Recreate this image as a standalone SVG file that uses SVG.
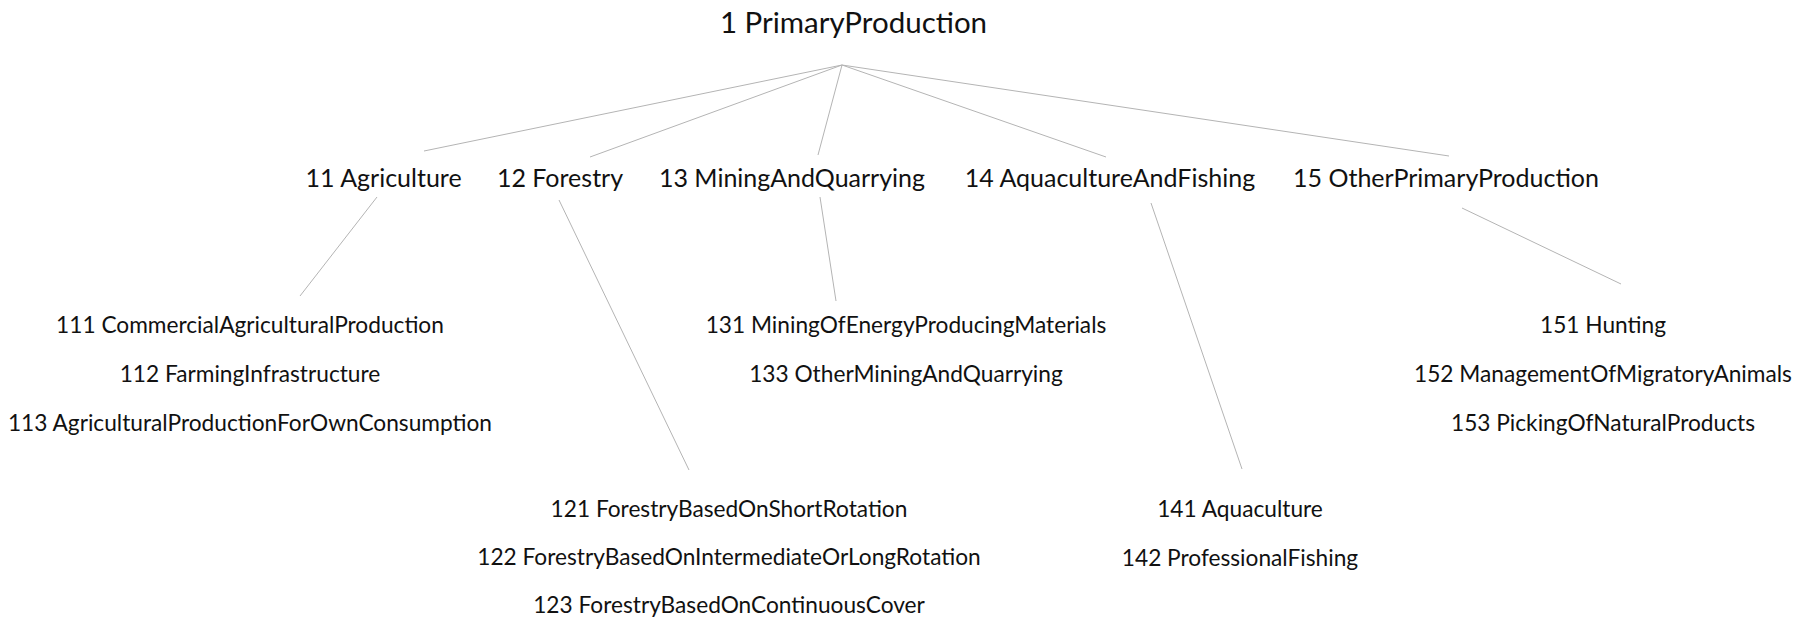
<svg xmlns="http://www.w3.org/2000/svg" width="1812" height="620" viewBox="0 0 1812 620">
<style>
text{font-family:Lato,"Open Sans","Liberation Sans",sans-serif;fill:#111;text-anchor:middle}
.t0{font-size:29.5px}
.t1{font-size:25px}
.t2{font-size:22.7px}
.c line{stroke:#b4b4b4;stroke-width:1;fill:none}
</style>
<rect width="1812" height="620" fill="#fff"/>
<g id="connectors" class="c">
<line x1="842" y1="65" x2="424" y2="151"/>
<line x1="842" y1="65" x2="590" y2="157"/>
<line x1="842" y1="65" x2="818" y2="155"/>
<line x1="842" y1="65" x2="1106" y2="157"/>
<line x1="842" y1="65" x2="1449" y2="156"/>
<line x1="377" y1="197" x2="300" y2="296"/>
<line x1="559" y1="200" x2="689" y2="470"/>
<line x1="820" y1="197" x2="836" y2="301"/>
<line x1="1151" y1="203" x2="1242" y2="469"/>
<line x1="1462" y1="208" x2="1621" y2="284"/>
</g>
<g id="n1"><text class="t0" x="853.5" y="33">1 PrimaryProduction</text></g>
<g id="n11"><text class="t1" x="383.6" y="187">11 Agriculture</text></g>
<g id="n12"><text class="t1" x="560" y="187">12 Forestry</text></g>
<g id="n13"><text class="t1" x="792" y="187">13 MiningAndQuarrying</text></g>
<g id="n14"><text class="t1" x="1110" y="187">14 AquacultureAndFishing</text></g>
<g id="n15"><text class="t1" x="1446" y="187">15 OtherPrimaryProduction</text></g>
<g id="n11c">
<text class="t2" x="250" y="333">111 CommercialAgriculturalProduction</text>
<text class="t2" x="250" y="382">112 FarmingInfrastructure</text>
<text class="t2" x="250" y="431">113 AgriculturalProductionForOwnConsumption</text>
</g>
<g id="n12c">
<text class="t2" x="729" y="517">121 ForestryBasedOnShortRotation</text>
<text class="t2" x="729" y="565">122 ForestryBasedOnIntermediateOrLongRotation</text>
<text class="t2" x="729" y="613">123 ForestryBasedOnContinuousCover</text>
</g>
<g id="n13c">
<text class="t2" x="906" y="333">131 MiningOfEnergyProducingMaterials</text>
<text class="t2" x="906" y="382">133 OtherMiningAndQuarrying</text>
</g>
<g id="n14c">
<text class="t2" x="1240" y="517">141 Aquaculture</text>
<text class="t2" x="1240" y="566">142 ProfessionalFishing</text>
</g>
<g id="n15c">
<text class="t2" x="1603" y="333">151 Hunting</text>
<text class="t2" x="1603" y="382">152 ManagementOfMigratoryAnimals</text>
<text class="t2" x="1603" y="431">153 PickingOfNaturalProducts</text>
</g>
</svg>
